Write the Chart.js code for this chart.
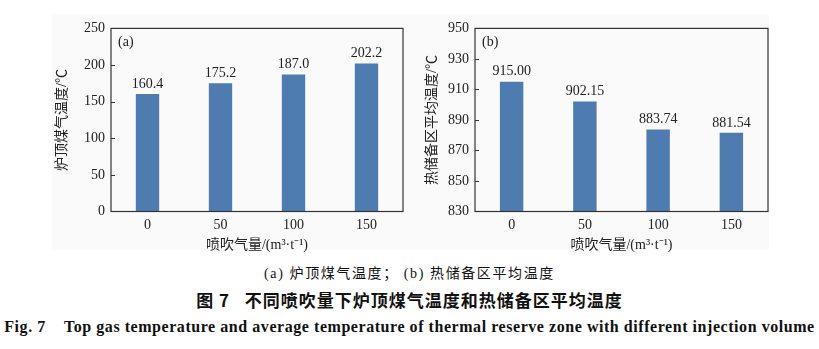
<!DOCTYPE html>
<html>
<head>
<meta charset="utf-8">
<script src="https://cdn.jsdelivr.net/npm/chart.js@4.4.1/dist/chart.umd.min.js"></script>
<style>
  body { margin: 0; width: 819px; height: 349px; background: #fff; position: relative; overflow: hidden; }
  .panel { position: absolute; top: 14px; height: 236px; background: #fafafa; }
  .box { position: absolute; top: 14px; height: 245px; }
  .cap { position: absolute; left: 0; width: 819px; text-align: center; white-space: nowrap; color: #111; }
  #cap1 { top: 262px; font: 14px "Liberation Serif", "Noto Sans CJK SC", serif; letter-spacing: 1.6px; }
  #cap2 { top: 287px; font: bold 17px "Noto Sans CJK SC", sans-serif; letter-spacing: 1px; }
  #cap3 { top: 318px; font: bold 16px "Liberation Serif", serif; letter-spacing: 0.55px; }
</style>
</head>
<body>
<div class="panel" style="left:52px;width:358px"></div>
<div class="panel" style="left:410px;width:359px"></div>
<div class="box" style="left:52px;width:358px"><canvas id="chartA"></canvas></div>
<div class="box" style="left:410px;width:359px"><canvas id="chartB"></canvas></div>
<div class="cap" id="cap1">(a) 炉顶煤气温度； (b) 热储备区平均温度</div>
<div class="cap" id="cap2">图 7&nbsp;&nbsp;&nbsp;不同喷吹量下炉顶煤气温度和热储备区平均温度</div>
<div class="cap" id="cap3">Fig. 7&nbsp;&nbsp;&nbsp;&nbsp;Top gas temperature and average temperature of thermal reserve zone with different injection volume</div>
<script>
// injection volume, m3/t
const categories = ["0", "50", "100", "150"];
// top gas temperature, ℃
const topGasTemp = [160.4, 175.2, 187.0, 202.2];
// average temperature of thermal reserve zone, ℃
const reserveTemp = [915.00, 902.15, 883.74, 881.54];
const ticksA = [0, 50, 100, 150, 200, 250];
const ticksB = [830, 850, 870, 890, 910, 930, 950];

const barColor = "#4e7bb0";
const ink = "#222";
const serif = "'Liberation Serif', 'Noto Sans CJK SC', serif";

// frame around the plot, inward ticks on y, value labels and panel tag
function decorations(tag, decimals) {
  return {
    id: "decorations",
    afterDraw(chart) {
      const { ctx, chartArea: a, scales } = chart;
      ctx.save();
      ctx.strokeStyle = "#333";
      ctx.lineWidth = 1.2;
      ctx.strokeRect(a.left, a.top, a.right - a.left, a.bottom - a.top);
      ctx.beginPath();
      scales.y.ticks.slice(1, -1).forEach((t) => {
        const py = Math.round(scales.y.getPixelForValue(t.value)) + 0.5;
        ctx.moveTo(a.left, py);
        ctx.lineTo(a.left + 4, py);
      });
      ctx.stroke();

      ctx.fillStyle = ink;
      ctx.font = "14px " + serif;
      ctx.textAlign = "center";
      ctx.textBaseline = "bottom";
      const meta = chart.getDatasetMeta(0);
      const vals = chart.data.datasets[0].data;
      meta.data.forEach((bar, i) => {
        ctx.fillText(vals[i].toFixed(decimals), bar.x, bar.y - 3);
      });

      ctx.textAlign = "left";
      ctx.textBaseline = "middle";
      ctx.fillText(tag, a.left + 7, a.top + 14);
      ctx.restore();
    }
  };
}

function makeChart(id, values, yTicks, yTitle, tag, decimals, yWidth, rightPad, titlePad) {
  return new Chart(document.getElementById(id), {
    type: "bar",
    data: {
      labels: categories,
      datasets: [{
        data: values,
        backgroundColor: barColor,
        borderWidth: 0,
        barPercentage: 0.32,
        categoryPercentage: 1
      }]
    },
    options: {
      responsive: true,
      maintainAspectRatio: false,
      animation: false,
      events: [],
      layout: { padding: { top: 7, right: rightPad, left: 0, bottom: 0 } },
      plugins: { legend: { display: false }, tooltip: { enabled: false } },
      scales: {
        x: {
          grid: { display: false, drawTicks: false },
          border: { display: false },
          ticks: { color: ink, font: { family: serif, size: 14 }, padding: 5 },
          title: {
            display: true,
            text: "喷吹气量/(m³·t⁻¹)",
            color: ink,
            font: { family: serif, size: 14 },
            padding: { top: 0, bottom: 5 }
          },
          afterFit(scale) { scale.height = 47.5; }
        },
        y: {
          min: yTicks[0],
          max: yTicks[yTicks.length - 1],
          grid: { display: false, drawTicks: false },
          border: { display: false },
          ticks: { color: ink, font: { family: serif, size: 14 }, padding: 6 },
          afterBuildTicks(scale) { scale.ticks = yTicks.map((v) => ({ value: v })); },
          title: {
            display: true,
            text: yTitle,
            color: ink,
            font: { family: serif, size: 14 },
            padding: { top: titlePad, bottom: 0 }
          },
          afterFit(scale) { scale.width = yWidth; }
        }
      }
    },
    plugins: [decorations(tag, decimals)]
  });
}

makeChart("chartA", topGasTemp, ticksA, "炉顶煤气温度/℃", "(a)", 1, 59, 7, 2);
makeChart("chartB", reserveTemp, ticksB, "热储备区平均温度/℃", "(b)", 2, 65, 1, 14);
</script>
</body>
</html>
